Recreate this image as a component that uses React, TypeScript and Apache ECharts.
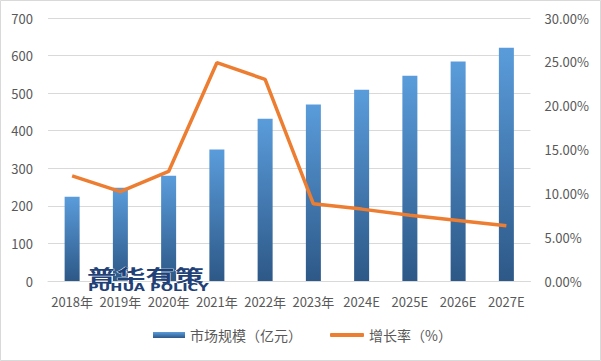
import React, { useEffect, useRef } from "react";
import * as echarts from "echarts";

const categories = ["2018年", "2019年", "2020年", "2021年", "2022年", "2023年", "2024E", "2025E", "2026E", "2027E"];
const marketSize = [224, 248, 280, 350, 432, 470, 509, 546, 584, 621];
const growthRate = [12.0, 10.2, 12.5, 24.9, 23.0, 8.8, 8.2, 7.5, 6.9, 6.3];
const leftTicks = { min: 0, max: 700, interval: 100 };
const rightTicks = { min: 0, max: 30, interval: 5 };
const barName = "市场规模（亿元）";
const lineName = "增长率（%）";

const FONT = '"Noto Sans CJK SC", "Noto Sans", sans-serif';
const TXT = "#595959";

export default function App() {
  const ref = useRef<HTMLDivElement>(null);
  useEffect(() => {
    if (!ref.current) return;
    const chart = echarts.init(ref.current, null, { renderer: "svg" });
    const barGrad = new echarts.graphic.LinearGradient(0, 0, 0, 1, [
      { offset: 0, color: "#5A9CDB" },
      { offset: 1, color: "#2D5887" },
    ]);
    const legendText = { color: TXT, fontSize: 14, fontFamily: FONT };
    chart.setOption({
      animation: false,
      backgroundColor: "#ffffff",
      textStyle: { fontFamily: FONT },
      grid: { left: 48, right: 70.5, top: 18, bottom: 80, containLabel: false },
      legend: [
        {
          left: 153,
          top: 328,
          padding: 0,
          itemWidth: 32,
          itemHeight: 6,
          icon: "rect",
          textStyle: legendText,
          data: [barName],
        },
        {
          left: 330,
          top: 328,
          padding: 0,
          itemWidth: 34,
          itemHeight: 4,
          icon: "roundRect",
          textStyle: legendText,
          data: [lineName],
        },
      ],
      xAxis: {
        type: "category",
        data: categories,
        axisLine: { show: true, lineStyle: { color: "#d9d9d9" } },
        axisTick: { show: false },
        axisLabel: { color: TXT, fontSize: 13, margin: 14, interval: 0, fontFamily: FONT },
      },
      yAxis: [
        {
          type: "value",
          ...leftTicks,
          axisLine: { show: false },
          axisTick: { show: false },
          splitLine: { lineStyle: { color: "#d9d9d9" } },
          axisLabel: { color: TXT, fontSize: 13, margin: 15, fontFamily: FONT },
        },
        {
          type: "value",
          ...rightTicks,
          axisLine: { show: false },
          axisTick: { show: false },
          splitLine: { show: false },
          axisLabel: {
            color: TXT,
            fontSize: 13,
            margin: 14,
            fontFamily: FONT,
            formatter: (v: number) => v.toFixed(2) + "%",
          },
        },
      ],
      series: [
        {
          name: barName,
          type: "bar",
          data: marketSize,
          barWidth: 15,
          itemStyle: { color: barGrad },
          z: 2,
        },
        {
          name: lineName,
          type: "line",
          yAxisIndex: 1,
          data: growthRate,
          showSymbol: false,
          symbol: "none",
          lineStyle: { color: "#ED7D31", width: 3.5 },
          itemStyle: { color: "#ED7D31" },
          z: 3,
        },
      ],
      graphic: [
        {
          type: "rect",
          shape: { x: 0.5, y: 0.5, width: 600, height: 360 },
          style: { fill: "none", stroke: "#d9d9d9", lineWidth: 1 },
          silent: true,
          z: 100,
        },
        {
          type: "text",
          x: 87,
          y: 266,
          scaleX: 1.72,
          style: {
            text: "普华有策",
            font: 'bold 17px "Noto Sans CJK SC"',
            fill: "#1f4177",
            stroke: "#ffffff",
            lineWidth: 0.6,
            textAlign: "left",
            textVerticalAlign: "top",
          },
          z: 50,
        },
        {
          type: "text",
          x: 88,
          y: 282,
          scaleX: 1.45,
          style: {
            text: "PUHUA POLICY",
            font: 'bold 10px "DejaVu Sans"',
            fill: "#1f4177",
            textAlign: "left",
            textVerticalAlign: "top",
          },
          z: 50,
        },
      ],
    });
    return () => chart.dispose();
  }, []);
  return (
    <div
      ref={ref}
      style={{ position: "absolute", left: 0, top: 0, width: 601, height: 361 }}
    />
  );
}
